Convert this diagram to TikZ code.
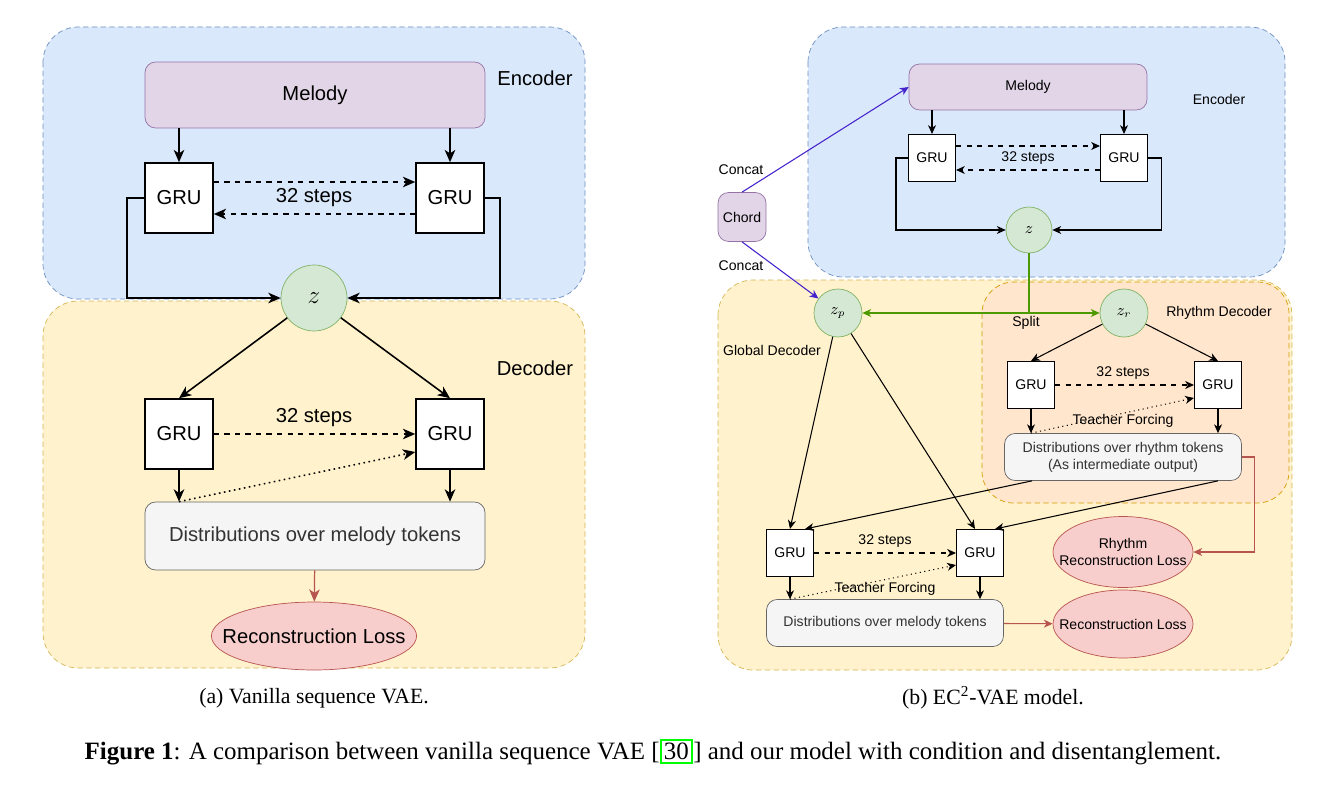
\documentclass[tikz,border=0pt]{standalone}
\usepackage{fontspec}
\setmainfont{Liberation Serif}
\setsansfont{Liberation Sans}
\usepackage{tikz}
\usetikzlibrary{arrows.meta,positioning,shapes.geometric,calc}
\definecolor{EncFill}   {HTML}{DAE8FC}
\definecolor{EncLine}   {HTML}{6C8EBF}
\definecolor{DecFill}   {HTML}{FFF2CC}
\definecolor{DecLine}   {HTML}{D6B656}
\definecolor{RhyFill}   {HTML}{FFE6CC}
\definecolor{RhyLine}   {HTML}{D79B00}
\definecolor{MelFill}   {HTML}{E1D5E7}
\definecolor{MelLine}   {HTML}{9673A6}
\definecolor{ZFill}     {HTML}{D5E8D4}
\definecolor{ZLine}     {HTML}{82B366}
\definecolor{LossFill}  {HTML}{F8CECC}
\definecolor{LossLine}  {HTML}{B85450}
\definecolor{DistFill}  {HTML}{F5F5F5}
\definecolor{DistLine}  {HTML}{666666}
\definecolor{SplitGreen}{HTML}{4D9900}
\definecolor{ConcatBlue}{HTML}{4422CC}
\definecolor{LinkGreen} {HTML}{00FF00}
\newcommand\panelAfont{\sffamily\fontsize{11.5}{13.5}\selectfont}
\newcommand\panelBfont{\sffamily\fontsize{8}{9.6}\selectfont}
\newcommand\captfont{\rmfamily\fontsize{12.4}{14}\selectfont}
\newcommand\figcapfont{\rmfamily\fontsize{14.2}{16}\selectfont}

\begin{document}
\begin{tikzpicture}[x=0.02cm,y=-0.02cm,
  encbox/.style={draw=EncLine,fill=EncFill,dash pattern=on 3pt off 2pt,rounded corners=20pt},
  decbox/.style={draw=DecLine,fill=DecFill,dash pattern=on 3pt off 2pt,rounded corners=20pt},
  rhybox/.style={draw=RhyLine,fill=RhyFill,dash pattern=on 3pt off 2pt,rounded corners=18pt},
  gruA/.style={draw,fill=white,line width=0.9pt,minimum width=1.36cm,minimum height=1.4cm,
               inner sep=0pt,font=\panelAfont},
  gruB/.style={draw,fill=white,line width=0.6pt,minimum width=0.94cm,minimum height=0.94cm,
               inner sep=0pt,font=\panelBfont},
  mel/.style={draw=MelLine,fill=MelFill,rounded corners=6pt,inner sep=0pt},
  dist/.style={draw=DistLine,fill=DistFill,rounded corners=6pt,inner sep=0pt,text=black!80},
  zc/.style={circle,draw=ZLine,fill=ZFill,inner sep=0pt},
  loss/.style={ellipse,draw=LossLine,fill=LossFill,inner ysep=0pt},
  lblA/.style={font=\panelAfont},
  lblB/.style={font=\panelBfont},
  arrA/.style={-{Stealth[length=7pt,width=6pt,inset=2pt]},line width=0.9pt},
  arrB/.style={-{Stealth[length=5pt,width=4.5pt,inset=1.5pt]},line width=0.6pt},
  redA/.style={-{Stealth[length=7pt,width=6pt,inset=2pt]},line width=0.7pt,LossLine},
  redB/.style={-{Stealth[length=5pt,width=4.5pt,inset=1.5pt]},line width=0.6pt,LossLine},
  grnB/.style={-{Stealth[length=5pt,width=4.5pt,inset=1.5pt]},line width=0.8pt,SplitGreen},
  bluB/.style={-{Stealth[length=5pt,width=4.5pt,inset=1.5pt]},line width=0.6pt,ConcatBlue}
]
  \useasboundingbox[fill=white] (0,0) rectangle (1334,787);

  % (a) Vanilla sequence VAE
  \draw[encbox] (43,27) rectangle (585,299);
  \draw[decbox] (43,301) rectangle (585,668);
  \node[lblA] (encA) at (535,78) {Encoder};
  \node[lblA] (decA) at (535,368) {Decoder};

  \node[mel,minimum width=6.8cm,minimum height=1.32cm,font=\panelAfont] (melA) at (315,95) {Melody};
  \node[gruA] (eglA) at (179,198) {GRU};
  \node[gruA] (egrA) at (450,198) {GRU};
  \node[zc,minimum size=1.32cm,font=\fontsize{14}{16}\selectfont] (zA) at (314,298) {$z$};

  \draw[arrA] (eglA|-melA.south) -- (eglA);
  \draw[arrA] (egrA|-melA.south) -- (egrA);
  \draw[arrA,dashed] ([yshift=0.32cm]eglA.east) -- ([yshift=0.32cm]egrA.west);
  \draw[arrA,dashed] ([yshift=-0.32cm]egrA.west) -- ([yshift=-0.32cm]eglA.east);
  \node[lblA] (stepsEA) at (314,198) {32 steps};
  \draw[arrA] (eglA.west) -- ++(-17,0) |- (zA.west);
  \draw[arrA] (egrA.east) -- ++(15,0) |- (zA.east);

  \node[gruA] (dglA) at (179,434) {GRU};
  \node[gruA] (dgrA) at (450,434) {GRU};
  \draw[arrA] (zA) -- (dglA.north);
  \draw[arrA] (zA) -- (dgrA.north);
  \draw[arrA,dashed] (dglA) -- (dgrA);
  \node[lblA] (stepsDA) at (314,418) {32 steps};

  \node[dist,minimum width=6.8cm,minimum height=1.36cm,font=\panelAfont] (distA) at (315,536)
    {Distributions over melody tokens};
  \draw[arrA] (dglA) -- (dglA|-distA.north);
  \draw[arrA] (dgrA) -- (dgrA|-distA.north);
  \draw[arrA,dotted] (dglA|-distA.north) -- ([yshift=-0.36cm]dgrA.west);

  \node[loss,inner xsep=-0.38cm,minimum width=4.1cm,minimum height=1.36cm,font=\panelAfont] (lossA) at (314,636)
    {Reconstruction Loss};
  \draw[redA] (distA) -- (lossA);

  \node[font=\captfont] (capA) at (314,698) {(a) Vanilla sequence VAE.};

  % (b) EC2-VAE
  \draw[encbox] (808,27) rectangle (1285,277);
  \draw[decbox] (718,280) rectangle (1292,670);
  \draw[rhybox] (982,282) rectangle (1289,503);
  \node[lblB] (encB) at (1219,99) {Encoder};
  \node[lblB] (gdecB) at (772,350) {Global Decoder};
  \node[lblB] (rdecB) at (1219,313) {Rhythm Decoder};

  \node[mel,minimum width=4.76cm,minimum height=0.92cm,font=\panelBfont] (melB) at (1028,87) {Melody};
  \node[mel,minimum width=0.96cm,minimum height=0.98cm,font=\panelBfont] (chord) at (742,217) {Chord};
  \node[gruB] (eglB) at (932,158) {GRU};
  \node[gruB] (egrB) at (1124,158) {GRU};
  \node[zc,minimum size=0.92cm,font=\fontsize{9}{11}\selectfont] (zB) at (1029,230) {$z$};
  \node[zc,minimum size=0.96cm,font=\fontsize{9}{11}\selectfont] (zp) at (838,313) {$z_p$};
  \node[zc,minimum size=0.96cm,font=\fontsize{9}{11}\selectfont] (zr) at (1124,313) {$z_r$};

  \draw[arrB] (eglB|-melB.south) -- (eglB);
  \draw[arrB] (egrB|-melB.south) -- (egrB);
  \draw[arrB,dashed] ([yshift=0.24cm]eglB.east) -- ([yshift=0.24cm]egrB.west);
  \draw[arrB,dashed] ([yshift=-0.24cm]egrB.west) -- ([yshift=-0.24cm]eglB.east);
  \node[lblB] (stepsEB) at (1028,158) {32 steps};
  \draw[arrB] (eglB.west) -- ++(-12,0) |- (zB.west);
  \draw[arrB] (egrB.east) -- ++(13,0) |- (zB.east);

  % condition
  \draw[bluB] (chord.north) -- (melB.west);
  \draw[bluB] (chord.south) -- (zp);
  \node[lblB] (catU) at (741,170) {Concat};
  \node[lblB] (catD) at (741,266) {Concat};

  % split
  \draw[line width=0.8pt,SplitGreen] (zB.south) -- (zB|-zp) coordinate (sp);
  \draw[grnB] (sp) -- (zp);
  \draw[grnB] (sp) -- (zr);
  \node[lblB] (split) at (1026,323) {Split};

  % rhythm decoder
  \node[gruB] (rglB) at (1031,385) {GRU};
  \node[gruB] (rgrB) at (1218,385) {GRU};
  \draw[arrB] (zr) -- (rglB.north);
  \draw[arrB] (zr) -- (rgrB.north);
  \draw[arrB,dashed] (rglB) -- (rgrB);
  \node[lblB] (stepsRB) at (1123,373) {32 steps};
  \node[dist,minimum width=4.74cm,minimum height=0.94cm,font=\panelBfont,align=center] (rdist) at (1123,457)
    {Distributions over rhythm tokens\\(As intermediate output)};
  \draw[arrB] (rglB) -- (rglB|-rdist.north);
  \draw[arrB] (rgrB) -- (rgrB|-rdist.north);
  \draw[arrB,dotted] (rglB|-rdist.north) -- ([yshift=-0.26cm]rgrB.west);
  \node[lblB] (tfR) at (1123,421) {Teacher Forcing};

  % global decoder
  \node[gruB] (gglB) at (790,553) {GRU};
  \node[gruB] (ggrB) at (980,553) {GRU};
  \draw[arrB] (zp) -- (gglB.north);
  \draw[arrB] (zp) -- ([xshift=-0.1cm]ggrB.north);
  \draw[arrB] ([xshift=-1.82cm]rdist.south) -- ([xshift=0.3cm]gglB.north);
  \draw[arrB] ([xshift=1.9cm]rdist.south) -- ([xshift=0.3cm]ggrB.north);
  \draw[arrB,dashed] (gglB) -- (ggrB);
  \node[lblB] (stepsGB) at (885,541) {32 steps};
  \node[dist,minimum width=4.74cm,minimum height=0.94cm,font=\panelBfont] (mdist) at (885,623)
    {Distributions over melody tokens};
  \draw[arrB] (gglB) -- (gglB|-mdist.north);
  \draw[arrB] (ggrB) -- (ggrB|-mdist.north);
  \draw[arrB,dotted] (gglB|-mdist.north) -- ([yshift=-0.24cm]ggrB.west);
  \node[lblB] (tfG) at (885,589) {Teacher Forcing};

  % losses
  \node[loss,inner xsep=-0.31cm,minimum width=2.8cm,minimum height=1.42cm,font=\panelBfont,align=center] (rloss) at (1123,552)
    {Rhythm\\Reconstruction Loss};
  \node[loss,inner xsep=-0.31cm,minimum width=2.8cm,minimum height=1.36cm,font=\panelBfont] (mloss) at (1123,624)
    {Reconstruction Loss};
  \draw[redB] (rdist.east) -- ++(13,0) |- (rloss.east);
  \draw[redB] (mdist) -- (mloss);

  \node[font=\captfont] (capB) at (993,698) {(b) EC\textsuperscript{2}-VAE model.};

  % figure caption
  \node[font=\figcapfont] (figcap) at (653,752)
    {\textbf{Figure 1}: A comparison between vanilla sequence VAE [{\fboxsep=1pt\fboxrule=1.5pt\fcolorbox{LinkGreen}{white}{30}}] and our model with condition and disentanglement.};
\end{tikzpicture}
\end{document}
